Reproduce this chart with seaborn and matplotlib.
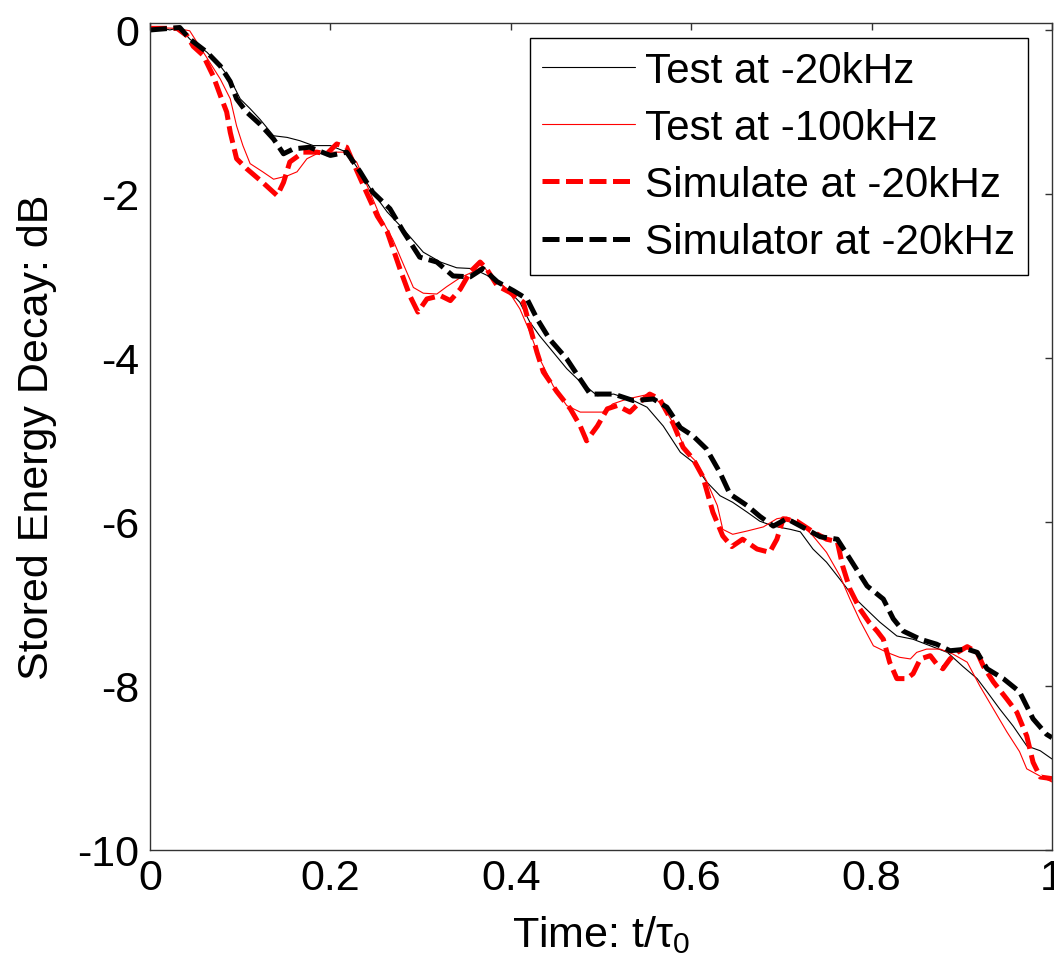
import numpy as np
import pandas as pd
import matplotlib
matplotlib.use("Agg")
import matplotlib.pyplot as plt
import seaborn as sns

# ---------------- data ----------------
test20_x = [0, .011, .022, .033, .044, .063, .078, .089, .1, .111,
            .122, .137, .152, .166, .181, .2, .218, .233, .247, .263,
            .281, .303, .322, .34, .358, .377, .396, .41, .421, .432,
            .447, .462, .477, .496, .514, .536, .551, .569, .588, .602,
            .617, .632, .646, .662, .676, .691, .71, .721, .735, .75,
            .765, .779, .79, .809, .828, .846, .865, .884, .901, .917,
            .928, .942, .957, .972, .987, 1.0]
test20_y = [-0.01, 0.03, 0.0, 0.03, -0.11, -0.27, -0.44, -0.6, -0.84, -0.96,
            -1.09, -1.29, -1.31, -1.35, -1.41, -1.41, -1.49, -1.73, -1.98, -2.22,
            -2.43, -2.71, -2.83, -2.90, -2.91, -3.01, -3.16, -3.32, -3.56, -3.73,
            -3.93, -4.13, -4.29, -4.46, -4.44, -4.52, -4.60, -4.83, -5.15, -5.27,
            -5.51, -5.68, -5.76, -5.88, -5.99, -6.05, -6.09, -6.12, -6.33, -6.49,
            -6.70, -6.90, -7.02, -7.22, -7.39, -7.43, -7.51, -7.59, -7.76, -7.91,
            -8.07, -8.28, -8.49, -8.73, -8.79, -8.89]

test100_x = [0, .03, .044, .055, .066, .078, .089, .096, .103, .111,
             .125, .137, .152, .163, .174, .185, .2, .214, .229, .244,
             .255, .269, .281, .292, .303, .318, .329, .344, .358, .369,
             .38, .396, .41, .421, .432, .447, .462, .477, .502, .513,
             .529, .554, .569, .584, .595, .606, .617, .629, .635, .646,
             .662, .68, .695, .706, .721, .735, .75, .765, .776, .787,
             .802, .817, .831, .843, .85, .861, .876, .89, .906, .92,
             .935, .95, .964, .972, .987, 1.0]
test100_y = [0.03, 0.02, -0.01, -0.2, -0.39, -0.6, -0.84, -1.17, -1.41, -1.63,
             -1.73, -1.82, -1.78, -1.73, -1.57, -1.51, -1.49, -1.49, -1.61, -1.98,
             -2.27, -2.55, -2.86, -3.14, -3.21, -3.22, -3.13, -3.02, -2.95, -2.88,
             -3.01, -3.16, -3.40, -3.68, -4.01, -4.34, -4.58, -4.66, -4.66, -4.56,
             -4.50, -4.44, -4.58, -4.88, -5.15, -5.27, -5.50, -5.80, -6.09, -6.15,
             -6.11, -6.06, -5.96, -5.94, -6.02, -6.17, -6.37, -6.66, -6.94, -7.20,
             -7.51, -7.59, -7.65, -7.67, -7.59, -7.55, -7.55, -7.61, -7.71, -8.0,
             -8.28, -8.56, -8.80, -9.01, -9.10, -9.17]

simred_x = [0, .03, .041, .048, .059, .07, .078, .085, .089, .096,
            .107, .125, .141, .148, .155, .17, .185, .196, .207, .218,
            .225, .24, .252, .263, .277, .288, .297, .307, .322, .333,
            .344, .355, .366, .373, .385, .399, .414, .421, .429, .436,
            .451, .466, .477, .484, .496, .507, .518, .532, .543, .554,
            .565, .58, .591, .602, .613, .624, .635, .645, .657, .673,
            .687, .695, .702, .717, .735, .75, .762, .768, .776, .787,
            .797, .806, .813, .820, .828, .839, .846, .854, .865, .872,
            .879, .887, .895, .906, .917, .924, .935, .95, .961, .972,
            .979, .987, 1.0]
simred_y = [0.02, 0.02, -0.07, -0.2, -0.31, -0.56, -0.80, -1.0, -1.25, -1.57,
            -1.69, -1.86, -2.02, -1.86, -1.61, -1.49, -1.49, -1.51, -1.39, -1.43,
            -1.61, -1.98, -2.27, -2.46, -2.91, -3.24, -3.44, -3.28, -3.24, -3.30,
            -3.16, -2.95, -2.83, -2.91, -3.12, -3.2, -3.32, -3.61, -3.93, -4.17,
            -4.41, -4.62, -4.83, -5.01, -4.83, -4.62, -4.58, -4.66, -4.54, -4.44,
            -4.50, -4.80, -5.09, -5.23, -5.45, -5.88, -6.17, -6.30, -6.21, -6.33,
            -6.37, -6.21, -5.96, -5.99, -6.12, -6.21, -6.24, -6.54, -6.82, -7.06,
            -7.22, -7.33, -7.43, -7.71, -7.91, -7.91, -7.85, -7.67, -7.63, -7.73,
            -7.79, -7.67, -7.59, -7.52, -7.59, -7.76, -7.95, -8.16, -8.32, -8.61,
            -8.93, -9.11, -9.13]

simblack_x = [0, .033, .044, .063, .078, .089, .096, .107, .122, .137,
              .148, .159, .177, .2, .218, .233, .247, .266, .281, .299,
              .318, .336, .355, .369, .385, .403, .418, .429, .443, .462,
              .477, .488, .514, .536, .558, .573, .588, .602, .617, .632,
              .643, .662, .676, .691, .706, .728, .743, .762, .776, .795,
              .813, .824, .835, .854, .872, .887, .906, .917, .928, .946,
              .964, .979, .994, 1.0]
simblack_y = [0, 0.03, -0.11, -0.27, -0.44, -0.63, -0.84, -1.0, -1.15, -1.33,
              -1.51, -1.45, -1.43, -1.53, -1.49, -1.73, -1.98, -2.18, -2.46, -2.77,
              -2.83, -3.0, -3.01, -2.91, -3.07, -3.18, -3.28, -3.52, -3.77, -4.01,
              -4.26, -4.44, -4.44, -4.52, -4.5, -4.6, -4.85, -4.95, -5.11, -5.40,
              -5.66, -5.80, -5.93, -6.05, -5.96, -6.09, -6.18, -6.21, -6.45, -6.78,
              -6.94, -7.18, -7.33, -7.43, -7.49, -7.57, -7.55, -7.59, -7.79, -7.91,
              -8.07, -8.40, -8.59, -8.63]

series_labels = ["Test at -20kHz", "Test at -100kHz",
                 "Simulate at -20kHz", "Simulator at -20kHz"]
xtick_vals = [0, 0.2, 0.4, 0.6, 0.8, 1.0]
xtick_labels = ["0", "0.2", "0.4", "0.6", "0.8", "1"]
ytick_vals = [0, -2, -4, -6, -8, -10]
ytick_labels = ["0", "-2", "-4", "-6", "-8", "-10"]

# ---------------- style ----------------
sns.set_theme(style="white")
plt.rcParams["font.family"] = ["Liberation Sans", "DejaVu Sans"]
plt.rcParams["mathtext.fontset"] = "custom"
plt.rcParams["mathtext.rm"] = "Liberation Sans"
plt.rcParams["mathtext.it"] = "Liberation Sans"
plt.rcParams["axes.unicode_minus"] = False
plt.rcParams["text.color"] = "black"
plt.rcParams["axes.labelcolor"] = "black"
plt.rcParams["xtick.color"] = "black"
plt.rcParams["ytick.color"] = "black"
FS = 31

fig = plt.figure(figsize=(10.54, 9.70), dpi=100)
W, H = 1054, 970
ax = fig.add_axes([150 / W, 1 - 851 / H, 902 / W, 827 / H])

specs = [
    (test20_x, test20_y, "black", 0.8, "-"),
    (test100_x, test100_y, "red", 0.8, "-"),
    (simred_x, simred_y, "red", 3.6, (0, (3.4, 1.3))),
    (simblack_x, simblack_y, "black", 3.6, (0, (3.4, 1.3))),
]
for (xs, ys, col, lw, ls), lab in zip(specs, series_labels):
    assert len(xs) == len(ys), lab
    df = pd.DataFrame({"t": xs, "E": ys})
    sns.lineplot(data=df, x="t", y="E", ax=ax, color=col, linewidth=lw,
                 linestyle=ls, label=lab, estimator=None, sort=False)

ax.set_xlim(0, 1)
ax.set_ylim(-10, 0.085)
ax.set_xticks(xtick_vals)
ax.set_xticklabels(xtick_labels)
ax.set_yticks(ytick_vals)
ax.set_yticklabels(ytick_labels)
ax.tick_params(axis="both", direction="in", length=5, width=1,
               color="#333333", labelsize=FS, labelcolor="black",
               top=True, right=True)
ax.tick_params(axis="x", pad=6)
ax.tick_params(axis="y", pad=8)
for s in ax.spines.values():
    s.set_visible(True)
    s.set_color("#333333")
    s.set_linewidth(1.0)

ax.set_xlabel(r"Time: t/$\tau_{0}$", fontsize=FS, labelpad=11, color="black")
ax.set_ylabel("Stored Energy Decay: dB", fontsize=FS, labelpad=14, color="black")

leg = ax.legend(loc="upper right", bbox_to_anchor=((1028 - 150) / 902, (851 - 39) / 827),
                borderaxespad=0, fontsize=30.3, frameon=True, fancybox=False,
                edgecolor="black", framealpha=1, handlelength=2.2,
                handletextpad=0.25, labelspacing=0.41, borderpad=0.3)
leg.get_frame().set_linewidth(1.0)
for t in leg.get_texts():
    t.set_color("black")

fig.savefig("out.png", dpi=100)
